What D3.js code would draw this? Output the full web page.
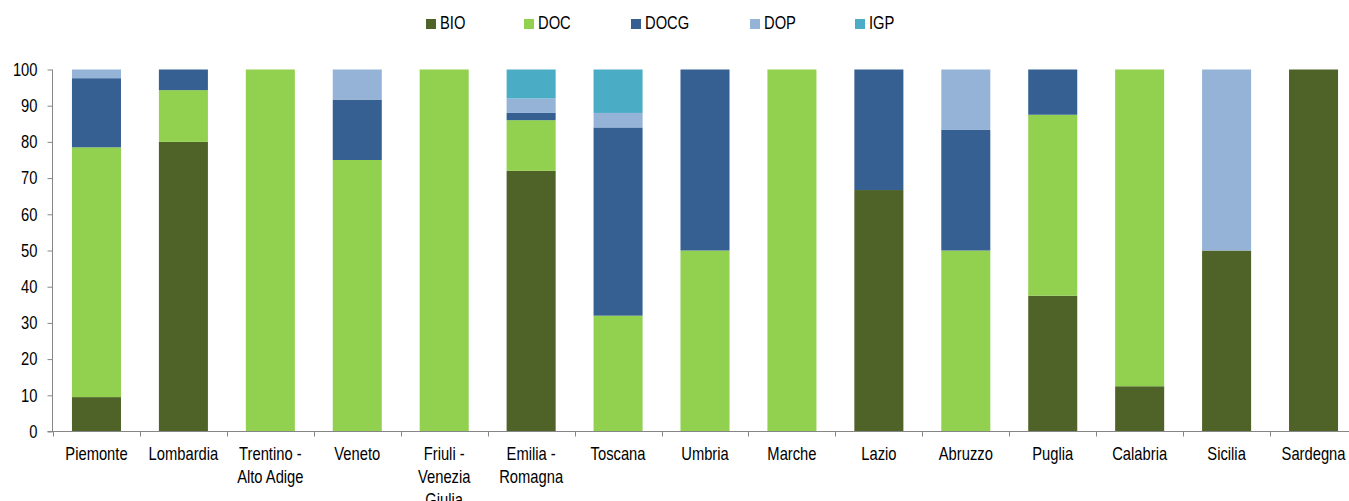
<!DOCTYPE html>
<html>
<head>
<meta charset="utf-8">
<script src="https://cdn.jsdelivr.net/npm/d3@7"></script>
<style>
  html, body { margin: 0; padding: 0; background: #fff; }
  svg { display: block; }
  text { font-family: "Liberation Sans", Arial, sans-serif; font-size: 18px; fill: #000; }
</style>
</head>
<body>
<div id="chart"></div>
<script>
// Regions (one bar each)
const regions = ["Piemonte", "Lombardia", "Trentino - Alto Adige", "Veneto", "Friuli - Venezia Giulia",
  "Emilia - Romagna", "Toscana", "Umbria", "Marche", "Lazio", "Abruzzo", "Puglia", "Calabria", "Sicilia", "Sardegna"];

// Wrapped axis labels, one array of lines per region
const regionLabels = [["Piemonte"], ["Lombardia"], ["Trentino -", "Alto Adige"], ["Veneto"], ["Friuli -", "Venezia", "Giulia"],
  ["Emilia -", "Romagna"], ["Toscana"], ["Umbria"], ["Marche"], ["Lazio"], ["Abruzzo"], ["Puglia"], ["Calabria"], ["Sicilia"], ["Sardegna"]];

// Share (%) of each certification per region
const bio  = [9.5, 80.0, 0, 0, 0, 72, 0, 0, 0, 66.7, 0, 37.5, 12.5, 50, 100];
const doc  = [69.0, 14.3, 100, 75, 100, 14, 32, 50, 100, 0, 50, 50, 87.5, 0, 0];
const docg = [19.1, 5.7, 0, 16.7, 0, 2, 52, 50, 0, 33.3, 33.3, 12.5, 0, 0, 0];
const dop  = [2.4, 0, 0, 8.3, 0, 4, 4, 0, 0, 0, 16.7, 0, 0, 50, 0];
const igp  = [0, 0, 0, 0, 0, 8, 12, 0, 0, 0, 0, 0, 0, 0, 0];

const seriesNames = ["BIO", "DOC", "DOCG", "DOP", "IGP"];
const seriesColors = ["#4F6228", "#92D050", "#366092", "#95B3D7", "#4BACC6"];
const yTicks = [0, 10, 20, 30, 40, 50, 60, 70, 80, 90, 100];

// Legend entry offsets (px) from the first swatch
const legendOffsets = [0, 98, 205, 324, 429];

// Condensed lettering: regular face squeezed horizontally
const SQUEEZE = 0.82;
const placeText = (sel, fx, fy) => sel.attr("transform", (d, i) => `translate(${fx(d, i)},${fy(d, i)}) scale(${SQUEEZE},1)`);

const W = 1349, H = 501;
const svg = d3.select("#chart").append("svg").attr("width", W).attr("height", H);

const rows = regions.map((r, i) => ({ region: r, BIO: bio[i], DOC: doc[i], DOCG: docg[i], DOP: dop[i], IGP: igp[i] }));
const stacked = d3.stack().keys(seriesNames)(rows);

const x = d3.scaleBand().domain(regions).range([53, 1357]).paddingInner(0.436).paddingOuter(0.218);
const y = d3.scaleLinear().domain([0, 100]).range([431.5, 69.5]);
const color = d3.scaleOrdinal().domain(seriesNames).range(seriesColors);

// Bars
svg.append("g").selectAll("g").data(stacked).join("g")
  .attr("fill", d => color(d.key))
  .selectAll("rect").data(d => d.filter(s => s[1] - s[0] > 0)).join("rect")
  .attr("x", d => x(d.data.region))
  .attr("width", x.bandwidth())
  .attr("y", d => y(d[1]))
  .attr("height", d => y(d[0]) - y(d[1]));

const axisColor = "#868686";

// Y axis
const yAxis = svg.append("g").attr("transform", "translate(52.5,0)")
  .call(d3.axisLeft(y).tickValues(yTicks).tickSize(5).tickFormat(d3.format("d")));
yAxis.select(".domain").attr("stroke", axisColor).attr("d", `M0,${y(100)}V${y(0)}`);
yAxis.selectAll(".tick line").attr("stroke", axisColor);
yAxis.selectAll(".tick text").remove();
svg.append("g").selectAll("text").data(yTicks).join("text")
  .attr("text-anchor", "end").attr("dy", "0.35em")
  .call(placeText, () => 37.5, d => y(d))
  .text(d => d);

// X axis: category boundaries carry the ticks
const step = x.step();
const bounds = d3.range(regions.length + 1).map(i => x.range()[0] + i * step);
const xAxisG = svg.append("g").attr("transform", `translate(0,${y(0)})`);
xAxisG.append("line").attr("x1", 47.5).attr("x2", W).attr("y1", 0).attr("y2", 0).attr("stroke", axisColor);
xAxisG.selectAll("line.tk").data(bounds).join("line").attr("class", "tk")
  .attr("x1", d => Math.round(d) + 0.5).attr("x2", d => Math.round(d) + 0.5)
  .attr("y1", 0).attr("y2", 5).attr("stroke", axisColor);

xAxisG.selectAll("text.lbl").data(regions).join("text").attr("class", "lbl")
  .attr("text-anchor", "middle")
  .call(placeText, d => x(d) + x.bandwidth() / 2, () => 28.5)
  .each(function(d, i) {
    d3.select(this).selectAll("tspan").data(regionLabels[i]).join("tspan")
      .attr("x", 0)
      .attr("dy", (l, j) => j === 0 ? 0 : 23)
      .text(l => l);
  });

// Legend
const legend = svg.append("g").attr("transform", "translate(426,19)");
const items = legend.selectAll("g").data(seriesNames).join("g")
  .attr("transform", (d, i) => `translate(${legendOffsets[i]},0)`);
items.append("rect").attr("width", 10).attr("height", 10).attr("fill", d => color(d));
items.append("text").call(placeText, () => 14, () => 10).text(d => d);
</script>
</body>
</html>
